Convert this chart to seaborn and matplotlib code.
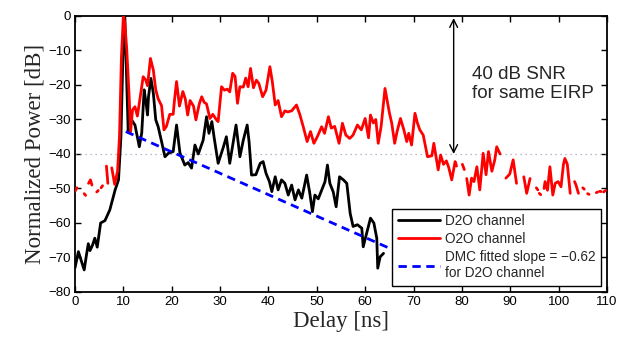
import numpy as np
import pandas as pd
import matplotlib
matplotlib.use("Agg")
import matplotlib.pyplot as plt
import seaborn as sns
from matplotlib.lines import Line2D

nan = np.nan

# D2O channel (black)
d2o_delay = [0.0, 0.7, 1.2, 1.9, 2.4, 2.75, 3.1, 3.6, 4.1, 4.6, 5.3, 6.2, 7.2, 8.3, 9.0, 9.5, 9.9, 10.3,
             11.0, 11.7, 12.4, 13.3, 13.8, 14.3, 14.7, 15.0, 15.2, 15.7, 16.2, 16.7, 17.2, 17.9, 18.6, 19.3,
             20.3, 21.0, 21.7, 22.7, 23.4, 24.1, 24.8, 25.5, 26.5, 27.2, 27.7, 28.3, 28.8, 29.6, 30.7, 31.3,
             32.0, 33.3, 34.1, 34.8, 35.6, 36.0, 36.5, 37.4, 38.3, 38.9, 39.5, 40.2, 40.7, 41.4, 42.0, 42.7,
             43.4, 44.1, 44.8, 45.5, 46.2, 46.9, 47.9, 48.5, 49.1, 49.6, 50.3, 51.0, 51.7, 52.2, 52.7, 53.4,
             54.0, 54.7, 55.5, 56.2, 56.9, 57.5, 58.4, 59.3, 59.6, 60.3, 61.1, 61.8, 62.4, 62.6, 63.1, 63.8]
d2o_power = [-73.0, -68.3, -70.5, -73.6, -69.0, -66.0, -68.0, -66.5, -64.4, -67.0, -60.0, -59.3, -56.2, -50.4,
             -47.5, -35.0, -12.0, 0.0,
             -33.5, -30.1, -31.6, -37.9, -33.9, -21.4, -25.3, -28.7, -23.4, -18.1, -22.4, -30.1, -32.1, -36.4,
             -40.8, -39.8, -39.3, -31.6, -39.7, -43.2, -42.5, -44.1, -37.4, -40.0, -36.0, -29.2, -34.0, -30.6,
             -35.5, -42.7, -37.9, -35.0, -42.7, -31.6, -40.8, -36.0, -31.6, -36.5, -46.1, -46.0, -42.7, -42.2,
             -45.6, -48.0, -50.9, -46.6, -50.4, -47.5, -48.5, -51.9, -49.0, -53.3, -50.4, -52.8, -46.1, -50.9,
             -56.7, -51.9, -53.0, -50.5, -48.0, -43.2, -48.5, -51.0, -55.3, -46.6, -47.5, -48.5, -57.2, -61.0,
             -60.5, -61.5, -66.9, -63.0, -58.6, -60.0, -64.4, -73.1, -69.8, -68.8]

# O2O channel (red), NaN = below noise floor
o2o_delay = [0.0, 0.4, 0.5, 1.9, 2.2, 2.3, 2.8, 3.2, 3.5, 3.6, 4.5, 4.8, 4.9, 5.4, 5.7, 5.8,
             6.5, 6.8, 7.0, 7.6, 8.2, 8.8, 9.2, 9.6, 10.0, 10.3, 10.7, 11.2, 11.5, 11.9, 12.4, 12.9, 13.4,
             14.1, 14.6, 15.0, 15.6, 16.2, 16.7, 17.2, 17.9, 18.4, 18.9, 19.6, 20.3, 20.6, 21.0, 21.6, 22.3,
             22.8, 23.3, 23.8, 24.5, 25.0, 25.7, 26.2, 26.7, 27.2, 27.9, 28.5, 29.2, 29.6, 30.3, 30.9, 31.5,
             32.0, 32.6, 33.1, 33.6, 34.1, 34.8, 35.3, 35.8, 36.3, 36.9, 37.5, 38.0, 38.8, 39.5, 40.3, 40.8,
             41.4, 42.0, 42.7, 43.4, 44.0, 44.8, 45.8, 46.5, 47.2, 48.0, 48.7, 49.4, 50.1, 51.0, 51.6, 52.4,
             53.0, 53.7, 54.6, 55.3, 56.0, 56.8, 57.5, 58.4, 59.2, 60.0, 60.7, 61.1, 61.7, 62.2, 62.7, 63.3,
             64.1, 65.0, 65.5, 66.1, 66.6, 67.3, 68.0, 68.6, 69.0, 69.6, 70.3, 70.8, 71.3, 72.0, 72.9, 73.8,
             74.2, 75.1, 75.6, 76.2, 76.8, 77.3, 77.9, 78.6, 78.9, 79.5,
             80.1, 80.5, 80.7,
             81.0, 81.5, 82.0, 82.5, 83.1, 83.7, 84.4, 85.0, 85.5, 86.2, 86.8, 87.2, 87.9, 88.5,
             89.1, 89.9, 90.6, 91.3, 92.0,
             92.8, 93.4, 94.1, 94.8,
             95.4, 95.7, 95.8, 96.0, 96.3, 96.5,
             97.0, 97.2, 97.7, 98.2, 98.8, 99.3, 99.9, 100.5, 101.0, 101.3, 101.8, 102.4, 102.8,
             103.3, 103.6, 104.1, 104.5, 105.0, 105.3, 105.5, 106.0, 106.3, 106.5,
             107.8, 108.1, 108.3, 108.5, 108.8, 109.0, 109.3, 109.7]
o2o_power = [-50.8, -49.8, nan, -51.5, -52.0, nan, -48.5, -47.5, -49.0, nan, -51.0, -50.6, nan, -49.8, -49.2, nan,
             -43.5, -48.5, nan, -44.0, -48.8, -45.0, -35.0, -12.0, 0.0, -2.0, -9.7, -23.4, -33.5, -27.2, -26.3,
             -29.0, -24.3, -17.6, -18.5, -20.2, -12.3, -15.7, -21.4, -24.0, -26.0, -33.0, -32.0, -28.5, -28.5,
             -24.0, -19.0, -26.1, -21.9, -24.0, -28.7, -24.5, -26.1, -30.1, -25.5, -23.4, -25.0, -25.5, -29.7,
             -28.5, -30.0, -30.6, -20.5, -21.5, -21.2, -22.0, -16.6, -17.5, -25.3, -20.5, -20.6, -18.0, -20.5,
             -15.2, -20.8, -18.6, -19.5, -23.4, -21.5, -14.7, -19.0, -25.8, -24.5, -29.2, -27.5, -27.8, -27.5,
             -25.8, -28.6, -32.1, -36.4, -33.5, -36.9, -35.0, -32.1, -34.0, -29.2, -32.5, -32.0, -36.9, -31.1,
             -34.5, -35.5, -34.5, -31.6, -33.0, -29.7, -35.3, -28.7, -31.0, -30.0, -36.9, -32.0, -21.0, -28.0,
             -31.1, -36.9, -33.5, -29.7, -33.0, -36.4, -34.0, -37.4, -28.2, -31.0, -33.0, -34.5, -40.8, -40.5,
             -36.9, -44.6, -40.3, -43.0, -42.0, -44.0, -47.5, -42.2, -43.5, nan,
             -43.0, -44.5, nan,
             -47.1, -51.9, -47.0, -48.0, -43.7, -50.4, -39.8, -46.0, -39.3, -45.0, -41.7, -37.9, -40.0, nan,
             -47.0, -45.8, -41.7, -48.5, nan,
             -46.6, -51.4, -47.1, nan,
             -49.8, -50.4, nan, -51.4, -51.8, nan,
             -50.0, -48.0, -50.5, -43.7, -51.9, -48.5, -48.0, -49.5, -43.0, -41.3, -43.0, -51.4, nan,
             -48.0, -49.0, -51.4, nan, -49.8, -50.2, nan, -51.5, -51.7, nan,
             -51.2, -51.0, nan, -50.8, -50.9, nan, -51.0, -50.6]

# DMC fit for D2O
fit_delay = [10.5, 65.0]
fit_power = [-33.5, -67.3]

legend_labels = ["D2O channel", "O2O channel", "DMC fitted slope = \u22120.62\nfor D2O channel"]

sns.set_style("white")
plt.rcParams["font.family"] = ["Liberation Sans", "DejaVu Sans"]
plt.rcParams["axes.unicode_minus"] = True

fig = plt.figure(figsize=(6.26, 3.41), dpi=100)
ax = fig.add_axes([0.1198, 0.1437, 0.8498, 0.8094])

ax.axhline(-40, color="#a8a0c0", linestyle=(0, (1, 3)), lw=0.9, zorder=1)

df_d2o = pd.DataFrame({"delay": d2o_delay, "power": d2o_power})
sns.lineplot(data=df_d2o, x="delay", y="power", ax=ax, color="black", lw=2.0,
             estimator=None, sort=False, zorder=2)

# red curve drawn as separate segments where data is above noise floor
o2o_arr = np.array(o2o_power)
seg = np.cumsum(np.isnan(o2o_arr))
df_o2o = pd.DataFrame({"delay": o2o_delay, "power": o2o_power, "seg": seg}).dropna()
sns.lineplot(data=df_o2o, x="delay", y="power", units="seg", estimator=None, ax=ax,
             color="red", lw=2.0, sort=False, legend=False, zorder=3)

df_fit = pd.DataFrame({"delay": fit_delay, "power": fit_power})
sns.lineplot(data=df_fit, x="delay", y="power", ax=ax, color="blue", lw=2.0,
             dashes=False, zorder=4).lines[-1].set_dashes((3, 2))

# SNR arrow
ax.annotate("", xy=(78.3, -40.0), xytext=(78.3, -0.6),
            arrowprops=dict(arrowstyle="<->", color="black", lw=1.0, mutation_scale=14,
                            shrinkA=0, shrinkB=0))
ax.text(82.0, -19.7, "40 dB SNR\nfor same EIRP", fontsize=13.5, va="center", ha="left",
        linespacing=1.1)

ax.set_xlim(0, 110)
ax.set_ylim(-80, 0)
ax.set_xticks(np.arange(0, 111, 10))
ax.set_yticks(np.arange(-80, 1, 10))
ax.tick_params(direction="in", length=4, width=1, top=True, right=True, labelsize=9.5, pad=3,
               bottom=True, left=True, colors="black")
for s in ax.spines.values():
    s.set_linewidth(1.3)
    s.set_color("black")

ax.set_xlabel("Delay [ns]", fontsize=16.5, family=["Liberation Serif"], labelpad=2)
ax.set_ylabel("Normalized Power [dB]", fontsize=16.5, family=["Liberation Serif"], labelpad=2)

handles = [Line2D([], [], color="black", lw=2.0),
           Line2D([], [], color="red", lw=2.0),
           Line2D([], [], color="blue", lw=2.0, dashes=(3, 2))]
leg = ax.legend(handles, legend_labels, loc="lower right", bbox_to_anchor=(0.989, 0.022),
                borderaxespad=0, fontsize=9.8, handlelength=3.1, handletextpad=0.4,
                labelspacing=0.3, borderpad=0.4, fancybox=False, framealpha=1)
leg.get_frame().set_edgecolor("black")
leg.get_frame().set_linewidth(1.0)

fig.savefig("out.png", dpi=100)
